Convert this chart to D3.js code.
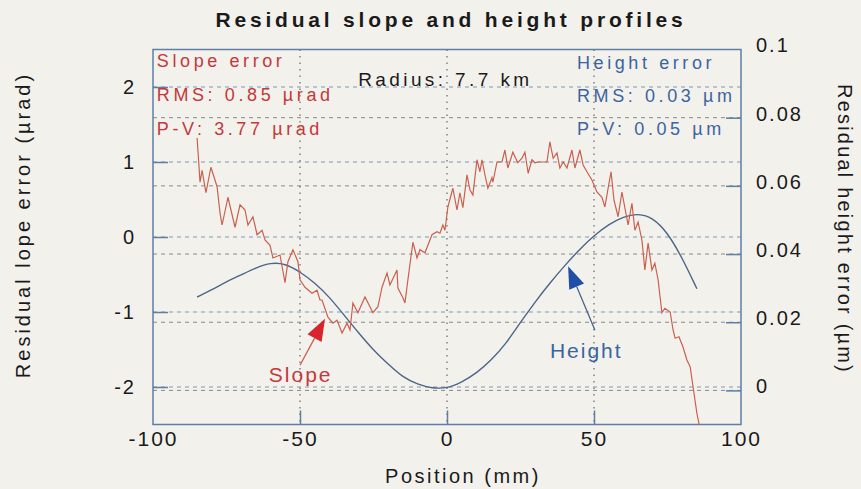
<!DOCTYPE html>
<html>
<head>
<meta charset="utf-8">
<script src="https://cdn.jsdelivr.net/npm/d3@7"></script>
<style>
  body { margin: 0; background: #f3f1ec; }
  svg { display: block; font-family: "Liberation Sans", Arial, sans-serif; }
</style>
</head>
<body>
<div id="chart"></div>
<script>
var width = 861;
var height = 489;

// slope error trace (position mm, µrad)
var slopePos = [-85.0, -84.0, -83.3, -82.0, -80.3, -78.2, -77.2, -76.5, -74.5, -72.1, -70.4, -68.7, -67.7, -66.0, -64.6, -62.9, -61.9, -60.2, -59.2, -56.8, -55.1, -54.1, -52.4, -50.7, -50.0, -48.3, -45.9, -44.2, -43.2, -42.5, -40.5, -38.8, -37.4, -35.7, -34.0, -33.0, -32.0, -30.3, -27.9, -26.2, -25.2, -23.5, -22.1, -20.4, -19.4, -17.0, -16.7, -15.0, -14.3, -13.3, -11.6, -10.2, -9.2, -7.5, -5.1, -3.4, -2.4, -1.4, -0.7, 0.3, 2.0, 3.4, 4.4, 5.4, 6.8, 7.8, 8.8, 10.2, 11.2, 11.9, 12.9, 13.9, 15.3, 15.6, 17.0, 18.7, 19.7, 20.7, 22.4, 24.1, 25.5, 26.5, 27.6, 28.9, 29.9, 31.0, 34.0, 35.0, 36.1, 37.4, 38.4, 39.5, 40.8, 42.5, 43.5, 45.2, 46.3, 47.6, 49.3, 51.0, 52.7, 53.7, 54.8, 55.8, 56.8, 58.2, 59.5, 60.5, 61.6, 62.9, 63.9, 65.0, 66.3, 67.3, 68.4, 69.7, 70.7, 71.8, 73.1, 74.1, 75.9, 76.9, 77.6, 78.9, 80.3, 81.6, 82.7, 83.7, 85.0, 86.1];
var slopeVals = [1.32, 0.73, 0.89, 0.59, 0.93, 0.67, 0.32, 0.16, 0.53, 0.13, 0.43, 0.36, 0.16, 0.27, 0.03, 0.09, -0.04, -0.11, -0.28, -0.24, -0.61, -0.33, -0.17, -0.33, -0.57, -0.67, -0.75, -0.71, -0.84, -0.84, -1.07, -1.15, -1.11, -1.28, -1.15, -1.24, -0.88, -1.01, -0.80, -0.93, -1.01, -0.93, -0.67, -0.48, -0.64, -0.44, -0.68, -0.81, -0.88, -0.57, -0.07, -0.28, -0.17, -0.21, 0.03, 0.07, 0.05, 0.16, 0.09, 0.40, 0.65, 0.36, 0.59, 0.39, 0.83, 0.63, 0.56, 1.03, 0.87, 1.03, 0.83, 0.65, 0.79, 0.73, 1.00, 1.00, 1.16, 0.92, 1.13, 0.99, 1.05, 1.13, 0.85, 1.03, 0.99, 1.00, 1.00, 1.27, 1.05, 1.12, 0.92, 1.00, 0.92, 1.16, 0.92, 1.16, 0.96, 0.87, 0.76, 0.60, 0.53, 0.40, 0.65, 0.87, 0.49, 0.27, 0.60, 0.39, 0.16, 0.45, 0.09, 0.20, -0.04, -0.44, -0.08, -0.44, -0.35, -0.57, -1.01, -0.95, -1.00, -1.24, -1.35, -1.33, -1.47, -1.64, -1.73, -2.00, -2.35, -2.57];

// height error trace (position mm, µm)
var heightPos = [-85, -80, -75, -70, -65, -60, -55, -50, -45, -40, -35, -30, -25, -20, -15, -10, -5, 0, 5, 10, 15, 20, 25, 30, 35, 40, 45, 50, 55, 60, 65, 70, 75, 80, 85];
var heightVals = [0.0274, 0.0295, 0.0319, 0.0339, 0.0360, 0.0375, 0.0372, 0.0348, 0.0316, 0.0274, 0.0221, 0.0168, 0.0118, 0.0077, 0.0038, 0.0018, 0.0006, 0.0006, 0.0024, 0.0050, 0.0088, 0.0136, 0.0200, 0.0260, 0.0315, 0.0366, 0.0413, 0.0454, 0.0487, 0.0510, 0.0519, 0.0507, 0.0463, 0.0389, 0.0298];

var xTicks = [-100, -50, 0, 50, 100];
var slopeTicks = [-2, -1, 0, 1, 2];
var heightTicks = [0, 0.02, 0.04, 0.06, 0.08, 0.1];

var slopeText = ["Slope error", "RMS: 0.85 \u00b5rad", "P-V: 3.77 \u00b5rad"];
var heightText = ["Height error", "RMS: 0.03 \u00b5m", "P-V: 0.05 \u00b5m"];

var red = "#c4383a";
var redLine = "#c9604e";
var blue = "#3b64a0";
var blueLine = "#4a6688";
var frame = "#5d7fa6";

var x = d3.scaleLinear().domain([-100, 100]).range([153, 741]);
var yL = d3.scaleLinear().domain([-2.5, 2.5]).range([424.5, 49.5]);
var yR = d3.scaleLinear().domain([-0.01, 0.1]).range([424.5, 49.5]);

var svg = d3.select("#chart")
    .append("svg")
    .attr("width", width)
    .attr("height", height);

// horizontal grid, left scale
svg.append("g")
    .selectAll("line")
    .data(slopeTicks)
    .enter()
    .append("line")
    .attr("x1", x(-100)).attr("x2", x(100))
    .attr("y1", function(d){ return yL(d); })
    .attr("y2", function(d){ return yL(d); })
    .attr("stroke", "#7f97b8")
    .attr("stroke-width", 1)
    .attr("stroke-dasharray", "4,4");

// horizontal grid, right scale
svg.append("g")
    .selectAll("line")
    .data(heightTicks.slice(0, 5))
    .enter()
    .append("line")
    .attr("x1", x(-100)).attr("x2", x(100))
    .attr("y1", function(d){ return yR(d); })
    .attr("y2", function(d){ return yR(d); })
    .attr("stroke", "#8a8a8a")
    .attr("stroke-width", 1)
    .attr("stroke-dasharray", "4,4");

// vertical dotted grid
svg.append("g")
    .selectAll("line")
    .data([-50, 0, 50])
    .enter()
    .append("line")
    .attr("x1", function(d){ return x(d); })
    .attr("x2", function(d){ return x(d); })
    .attr("y1", yL(2.5)).attr("y2", yL(-2.5))
    .attr("stroke", "#666")
    .attr("stroke-width", 1.2)
    .attr("stroke-dasharray", "1.5,5");

// axes
var plain = function(d){ return String(d); };
var gx = svg.append("g")
    .attr("transform", "translate(0," + yL(-2.5) + ")")
    .call(d3.axisBottom(x).tickValues(xTicks).tickSize(-14).tickPadding(7).tickFormat(plain));
var gl = svg.append("g")
    .attr("transform", "translate(" + x(-100) + ",0)")
    .call(d3.axisLeft(yL).tickValues(slopeTicks).tickSize(-15).tickPadding(17).tickFormat(plain));
var gr = svg.append("g")
    .attr("transform", "translate(" + x(100) + ",0)")
    .call(d3.axisRight(yR).tickValues(heightTicks).tickSize(-15).tickPadding(15).tickFormat(plain));

[gx, gl, gr].forEach(function(g){
    g.select(".domain").remove();
    g.selectAll("line").attr("stroke", frame).attr("stroke-width", 1.5);
    g.selectAll("text")
        .attr("fill", "#1a1a1a")
        .attr("font-size", "20px")
        .style("letter-spacing", "2px");
});
gx.selectAll("text").attr("font-size", "21px");
gr.selectAll("text").attr("dy", "0.12em");
gx.selectAll(".tick").filter(function(d){ return d === -100 || d === 100; }).select("line").remove();
gr.selectAll(".tick").filter(function(d){ return d === 0.1; }).select("line").remove();

// frame
svg.append("rect")
    .attr("x", x(-100)).attr("y", yL(2.5))
    .attr("width", x(100) - x(-100))
    .attr("height", yL(-2.5) - yL(2.5))
    .attr("fill", "none")
    .attr("stroke", frame)
    .attr("stroke-width", 1.5);

// height curve
svg.append("path")
    .datum(heightPos)
    .attr("d", d3.line()
        .x(function(d){ return x(d); })
        .y(function(d, i){ return yR(heightVals[i]); })
        .curve(d3.curveBasis))
    .attr("fill", "none")
    .attr("stroke", blueLine)
    .attr("stroke-width", 1.4);

// slope curve
svg.append("defs").append("clipPath").attr("id", "clip")
    .append("rect")
    .attr("x", x(-100)).attr("y", yL(2.5))
    .attr("width", x(100) - x(-100))
    .attr("height", yL(-2.5) - yL(2.5));

svg.append("path")
    .datum(slopePos)
    .attr("clip-path", "url(#clip)")
    .attr("d", d3.line()
        .x(function(d){ return x(d); })
        .y(function(d, i){ return yL(slopeVals[i]); }))
    .attr("fill", "none")
    .attr("stroke", redLine)
    .attr("stroke-width", 1.2);

// legend texts
svg.append("g")
    .selectAll("text")
    .data(slopeText)
    .enter()
    .append("text")
    .text(function(d){ return d; })
    .attr("x", x(-98.7))
    .attr("y", function(d, i){ return 67 + i * 34; })
    .attr("font-size", "18px")
    .style("letter-spacing", "3.6px")
    .attr("fill", red);

svg.append("g")
    .selectAll("text")
    .data(heightText)
    .enter()
    .append("text")
    .text(function(d){ return d; })
    .attr("x", x(44.2))
    .attr("y", function(d, i){ return 69 + i * 33; })
    .attr("font-size", "18px")
    .style("letter-spacing", "3.6px")
    .attr("fill", blue);

svg.append("text")
    .text("Radius: 7.7 km")
    .attr("x", x(-30.2))
    .attr("y", 86)
    .attr("font-size", "19px")
    .style("letter-spacing", "3.4px")
    .attr("fill", "#1a1a1a");

// arrows
var slopeArrow = [[-50, -1.71], [-41.5, -1.09]];
var heightArrow = [[50.3, -1.24], [41.2, -0.39]];

function arrow(pts, lineColor, headColor){
    var x0 = x(pts[0][0]), y0 = yL(pts[0][1]);
    var x1 = x(pts[1][0]), y1 = yL(pts[1][1]);
    var a = Math.atan2(y1 - y0, x1 - x0);
    var len = 22, w = 8;
    var bx = x1 - len * Math.cos(a), by = y1 - len * Math.sin(a);
    svg.append("line")
        .attr("x1", x0).attr("y1", y0).attr("x2", bx).attr("y2", by)
        .attr("stroke", lineColor).attr("stroke-width", 1.3);
    svg.append("polygon")
        .attr("points", [
            [x1, y1],
            [bx + w * Math.sin(a), by - w * Math.cos(a)],
            [bx - w * Math.sin(a), by + w * Math.cos(a)]
        ].map(function(p){ return p.join(","); }).join(" "))
        .attr("fill", headColor);
}
arrow(slopeArrow, "#c9604e", "#d8242c");
arrow(heightArrow, "#4a6688", "#1f4fa8");

svg.append("text")
    .text("Slope")
    .attr("x", x(-60.6))
    .attr("y", yL(-1.93))
    .attr("font-size", "21px")
    .style("letter-spacing", "2px")
    .attr("fill", red);

svg.append("text")
    .text("Height")
    .attr("x", x(35.0))
    .attr("y", yL(-1.61))
    .attr("font-size", "21px")
    .style("letter-spacing", "2px")
    .attr("fill", blue);

// titles
svg.append("text")
    .text("Residual slope and height profiles")
    .attr("x", 451)
    .attr("y", 27)
    .attr("text-anchor", "middle")
    .attr("font-size", "21px")
    .attr("font-weight", "bold")
    .style("letter-spacing", "3.8px")
    .attr("fill", "#1a1a1a");

svg.append("text")
    .text("Position (mm)")
    .attr("x", 463)
    .attr("y", 483)
    .attr("text-anchor", "middle")
    .attr("font-size", "20px")
    .style("letter-spacing", "2.5px")
    .attr("fill", "#1a1a1a");

svg.append("text")
    .text("Residual lope error (\u00b5rad)")
    .attr("transform", "translate(30,225) rotate(-90)")
    .attr("text-anchor", "middle")
    .attr("font-size", "20px")
    .style("letter-spacing", "3px")
    .attr("fill", "#1a1a1a");

svg.append("text")
    .text("Residual height error (\u00b5m)")
    .attr("transform", "translate(838,229) rotate(90)")
    .attr("text-anchor", "middle")
    .attr("font-size", "20px")
    .style("letter-spacing", "2.2px")
    .attr("fill", "#1a1a1a");
</script>
</body>
</html>
